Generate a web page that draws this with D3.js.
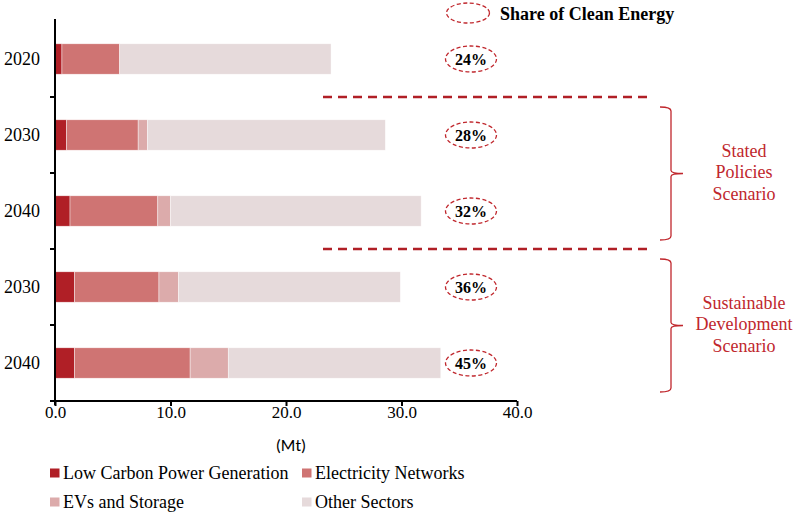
<!DOCTYPE html>
<html><head><meta charset="utf-8">
<script src="https://cdn.jsdelivr.net/npm/d3@7"></script>
<style>body{margin:0;background:#fff}svg{display:block}</style>
</head><body>
<svg id="c" width="794" height="516"></svg>
<script>
const categories = ["2020", "2030", "2040", "2030", "2040"];
const lowCarbon   = [0.6, 1.0, 1.3, 1.7, 1.7];
const networks    = [5.0, 6.2, 7.6, 7.3, 10.0];
const evsStorage  = [0.0, 0.8, 1.1, 1.7, 3.3];
const otherSectors= [18.3, 20.6, 21.7, 19.2, 18.4];
const shares = ["24%", "28%", "32%", "36%", "45%"];
const seriesNames = ["Low Carbon Power Generation", "Electricity Networks", "EVs and Storage", "Other Sectors"];
const colors = ["#b01f26", "#cf7473", "#dcabab", "#e6dadb"];
const xTicks = [0, 10, 20, 30, 40];
const scenarios = [{name: ["Stated", "Policies", "Scenario"], from: 1, to: 2},
                   {name: ["Sustainable", "Development", "Scenario"], from: 3, to: 4}];

const svg = d3.select("#c");
const serif = "'Liberation Serif','Times New Roman',serif";
const red = "#c0272d";

const ids = categories.map((c, i) => i);
const x = d3.scaleLinear().domain([0, 40]).range([55, 517]);
const y = d3.scaleBand().domain(ids).range([21, 401]).paddingInner(0.6).paddingOuter(0.3);
const step = y.step();

const rows = ids.map(i => ({i, v: [lowCarbon[i], networks[i], evsStorage[i], otherSectors[i]]}));
const stack = d3.stack().keys([0, 1, 2, 3]).value((d, k) => d.v[k]);
const stacked = stack(rows);

// bars
svg.append("g").selectAll("g").data(stacked).join("g")
  .attr("fill", (d, k) => colors[k])
  .selectAll("rect").data(d => d).join("rect")
  .attr("x", d => x(d[0]))
  .attr("width", d => Math.max(0, x(d[1]) - x(d[0])))
  .attr("y", d => y(d.data.i))
  .attr("height", y.bandwidth())
  .attr("stroke", "#fff").attr("stroke-width", 0.6).attr("stroke-opacity", 0.7);

// x axis
const xa = svg.append("g").attr("transform", "translate(0,401)")
  .call(d3.axisBottom(x).tickValues(xTicks).tickFormat(d3.format(".1f")).tickSize(5).tickSizeOuter(0));
xa.select(".domain").attr("stroke", "#000").attr("stroke-width", 2).attr("d", "M50,0H517");
xa.selectAll(".tick line").attr("stroke", "#000").attr("stroke-width", 2);
xa.selectAll(".tick text").attr("font-family", serif).attr("font-size", 17).attr("fill", "#000").attr("dy", "0.5em");

// y axis
const yTop = 21, yBot = 401;
const ya = svg.append("g").attr("transform", "translate(55,0)");
ya.append("line").attr("x1", 0).attr("x2", 0).attr("y1", yTop - 2).attr("y2", yBot + 4).attr("stroke", "#000").attr("stroke-width", 2);
const boundaries = d3.range(1, categories.length).map(k => yTop + k * step);
ya.selectAll("line.tk").data(boundaries).join("line").attr("class", "tk")
  .attr("x1", -5).attr("x2", 0).attr("y1", d => d).attr("y2", d => d)
  .attr("stroke", "#000").attr("stroke-width", 2);
ya.selectAll("text").data(ids).join("text")
  .attr("x", -15).attr("y", i => y(i) + y.bandwidth() / 2).attr("dy", "0.35em")
  .attr("text-anchor", "end").attr("font-family", serif).attr("font-size", 18).attr("fill", "#000")
  .text(i => categories[i]);

// x label
svg.append("text").attr("x", 291).attr("y", 451).attr("text-anchor", "middle")
  .attr("font-family", "Carlito,'Open Sans',sans-serif").attr("font-size", 17).attr("fill", "#000").text("(Mt)");

// share ellipses
const pg = svg.append("g");
pg.selectAll("ellipse").data(ids).join("ellipse")
  .attr("cx", 471).attr("cy", i => y(i) + y.bandwidth() / 2).attr("rx", 25.5).attr("ry", 13)
  .attr("fill", "none").attr("stroke", red).attr("stroke-width", 1.3).attr("stroke-dasharray", "4,2.5");
pg.selectAll("text").data(ids).join("text")
  .attr("x", 471).attr("y", i => y(i) + y.bandwidth() / 2).attr("dy", "0.36em")
  .attr("text-anchor", "middle").attr("font-family", serif).attr("font-weight", "bold").attr("font-size", 16).attr("fill", "#000")
  .text(i => shares[i]);

// legend: share
svg.append("ellipse").attr("cx", 468).attr("cy", 13).attr("rx", 21.5).attr("ry", 10)
  .attr("fill", "none").attr("stroke", red).attr("stroke-width", 1.3).attr("stroke-dasharray", "4,2.5");
svg.append("text").attr("x", 500).attr("y", 20).attr("font-family", serif).attr("font-weight", "bold")
  .attr("font-size", 18).attr("fill", "#000").text("Share of Clean Energy");

// dashed separators
svg.selectAll("line.sep").data([1, 3]).join("line").attr("class", "sep")
  .attr("x1", 323).attr("x2", 651).attr("y1", k => yTop + k * step).attr("y2", k => yTop + k * step)
  .attr("stroke", "#b01f26").attr("stroke-width", 2.5).attr("stroke-dasharray", "9,6");

// braces and scenario labels
scenarios.forEach(s => {
  const t = yTop + s.from * step + 10;
  const b = yTop + (s.to + 1) * step - 9;
  const m = (t + b) / 2;
  const bx = 671;
  const p = d3.path();
  p.moveTo(660, t);
  p.quadraticCurveTo(bx, t, bx, t + 4);
  p.lineTo(bx, m - 3);
  p.quadraticCurveTo(bx, m, bx + 12, m);
  p.quadraticCurveTo(bx, m, bx, m + 3);
  p.lineTo(bx, b - 4);
  p.quadraticCurveTo(bx, b, 660, b);
  svg.append("path").attr("d", p.toString()).attr("fill", "none").attr("stroke", red).attr("stroke-width", 1.3);
  const tx = svg.append("text").attr("text-anchor", "middle").attr("font-family", serif)
    .attr("font-size", 18).attr("fill", red);
  s.name.forEach((ln, j) => {
    tx.append("tspan").attr("x", 744).attr("y", m - 17 + j * 21.7).text(ln);
  });
});

// bottom legend
const lg = svg.append("g");
const pos = [[50, 473], [302, 473], [50, 502], [302, 502]];
seriesNames.forEach((n, k) => {
  const g = lg.append("g").attr("transform", `translate(${pos[k][0]},${pos[k][1]})`);
  g.append("rect").attr("x", 0).attr("y", -4.5).attr("width", 9.5).attr("height", 9).attr("fill", colors[k]);
  g.append("text").attr("x", 13).attr("y", 0).attr("dy", "0.33em").attr("font-family", serif)
    .attr("font-size", 18).attr("fill", "#000").text(n);
});
</script>
</body></html>
